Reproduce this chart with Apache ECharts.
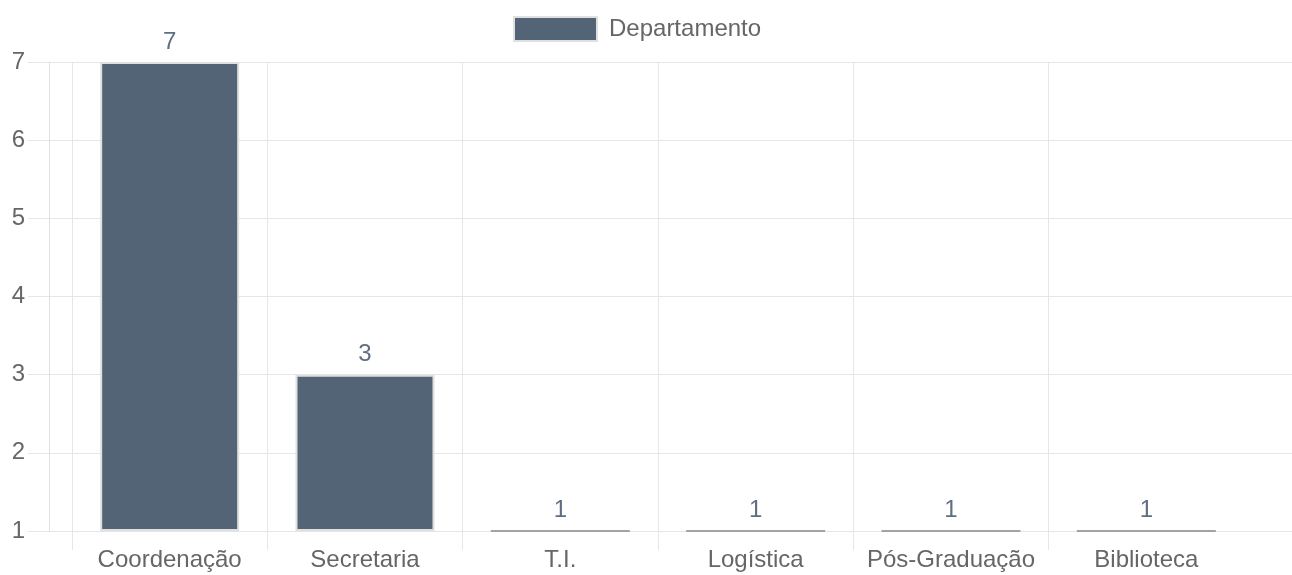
<!DOCTYPE html>
<html>
<head>
<meta charset="utf-8">
<script src="https://cdn.jsdelivr.net/npm/echarts@6/dist/echarts.min.js"></script>
<style>
html,body{margin:0;padding:0;background:#fff;}
#chart{width:1292px;height:575px;}
</style>
</head>
<body>
<div id="chart"></div>
<script>
const categories = ['Coordenação', 'Secretaria', 'T.I.', 'Logística', 'Pós-Graduação', 'Biblioteca'];
const seriesName = 'Departamento';
const values = [7, 3, 1, 1, 1, 1];
const yTicks = [1, 2, 3, 4, 5, 6, 7];

const yMin = yTicks[0], yMax = yTicks[yTicks.length - 1];
const FONT = 'Liberation Sans, Arial, Helvetica, sans-serif';
const GRID = '#e6e6e6';
const FS = 24;

// vertical grid line colours: one per category boundary, last (right edge) hidden
const vLineColors = categories.map(() => GRID).concat(['rgba(0,0,0,0)']);

const chart = echarts.init(document.getElementById('chart'), null, {renderer: 'canvas'});
chart.setOption({
  animation: false,
  textStyle: {fontFamily: FONT},
  legend: {
    left: 508, top: 11,
    itemWidth: 83, itemHeight: 24, itemGap: 10,
    textStyle: {fontSize: FS, color: '#666', fontFamily: FONT, padding: [0, 0, 0, 7]},
    data: [{name: seriesName, icon: 'rect'}]
  },
  grid: [
    {left: 72, right: 48, top: 62, bottom: 44},   // bars
    {left: 49, right: 0, top: 62, bottom: 44},    // horizontal grid + y labels
    {left: 72, right: 48, top: 62, bottom: 25}    // vertical grid lines (with tick extension)
  ],
  xAxis: [
    {
      gridIndex: 0, type: 'category', data: categories, boundaryGap: true,
      axisLine: {show: false}, axisTick: {show: false}, splitLine: {show: false},
      axisLabel: {fontSize: FS, color: '#666', margin: 17, fontFamily: FONT, interval: 0}
    },
    {gridIndex: 1, type: 'value', min: 0, max: 1, show: false},
    {
      gridIndex: 2, type: 'category', data: categories, boundaryGap: true,
      axisLine: {show: false}, axisTick: {show: false}, axisLabel: {show: false},
      splitLine: {show: true, lineStyle: {color: vLineColors, width: 1}}
    }
  ],
  yAxis: [
    {gridIndex: 0, type: 'value', min: yMin, max: yMax, interval: 1, show: false},
    {
      gridIndex: 1, type: 'value', min: yMin, max: yMax, interval: 1,
      axisLine: {show: true, lineStyle: {color: '#e0e0e0'}},
      axisTick: {show: true, length: 21, lineStyle: {color: GRID}},
      splitLine: {show: true, lineStyle: {color: GRID}},
      axisLabel: {fontSize: FS, color: '#666', margin: 24, fontFamily: FONT}
    },
    {gridIndex: 2, type: 'value', min: 0, max: 1, show: false}
  ],
  series: [
    {
      name: '_base', type: 'bar', xAxisIndex: 0, yAxisIndex: 0, stack: 'dept',
      barWidth: 139, silent: true,
      itemStyle: {color: 'rgba(0,0,0,0)'},
      data: values.map(() => yMin)
    },
    {
      name: seriesName, type: 'bar', xAxisIndex: 0, yAxisIndex: 0, stack: 'dept',
      barWidth: 139, clip: false,
      itemStyle: {color: '#546477', borderColor: '#e0e0e0', borderWidth: 2},
      label: {
        show: true, position: 'top', distance: 8, fontSize: FS, color: '#5f6e82', fontFamily: FONT,
        formatter: (p) => String(values[p.dataIndex])
      },
      data: values.map(v => v - yMin === 0
        ? {value: 0, itemStyle: {borderColor: '#a3a3a3', borderWidth: 2}}
        : v - yMin)
    }
  ]
});
</script>
</body>
</html>
